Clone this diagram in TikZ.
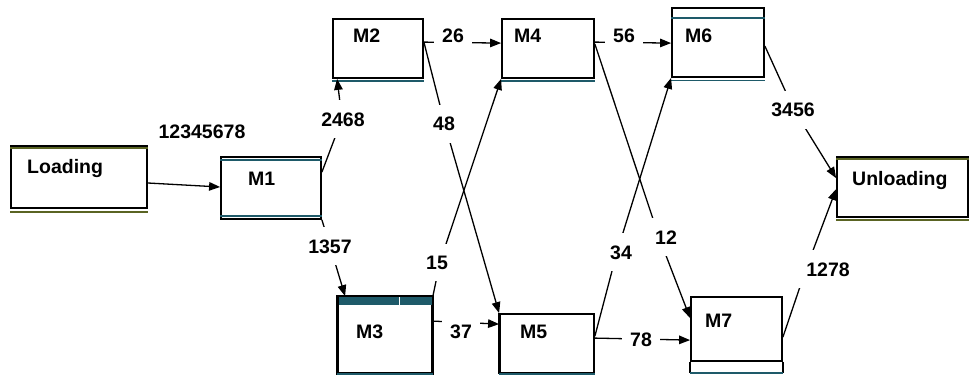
\documentclass[tikz,border=0pt]{standalone}
\usepackage{fontspec}
\setmainfont{Liberation Sans}
\usetikzlibrary{arrows.meta,fit,calc}
\definecolor{teal1}{RGB}{30,90,105}
\definecolor{olv}{RGB}{90,100,35}
\begin{document}
\begin{tikzpicture}[x=1pt,y=-1pt,
 box/.style={draw=black,line width=1.8pt,inner sep=0pt},
 txt/.style={font=\fontsize{19.5}{19.5}\selectfont\bfseries,inner sep=0pt,anchor=base west},
 lbl/.style={font=\fontsize{19.5}{19.5}\selectfont\bfseries,fill=white,inner xsep=8pt,inner ysep=12pt,anchor=base},
 conn/.style={line width=1.3pt},
 arr/.style={conn,-{Triangle[length=11pt,width=8.5pt]}},
 tl/.style={draw=teal1,line width=1.6pt},
 ol/.style={draw=olv,line width=1.6pt}]
\useasboundingbox (0,0) rectangle (971,377);

% boxes
\node[box,fit={(11,146)(147,208)}] (load) {};
\node[box,fit={(221,157)(321,219)}] (m1) {};
\node[box,fit={(333,19)(423,78)}] (m2) {};
\node[box,fit={(502,19)(594,78)}] (m4) {};
\node[box,fit={(672,8)(764,77)}] (m6) {};
\node[box,fit={(338,297)(432,373)}] (m3) {};
\node[box,fit={(500,314)(594,373)}] (m5) {};
\node[box,fit={(691,297)(782,361)}] (m7) {};
\node[box,fit={(837,157)(968,217)}] (unl) {};

% box decorations
\draw[ol] ([yshift=-3pt]load.north west) -- ([yshift=-3pt]load.north east);
\draw[ol] ([yshift=-3pt]load.south west) -- ([yshift=-3pt]load.south east);
\draw[tl] ([yshift=-4pt]m1.north west) -- ([yshift=-4pt]m1.north east);
\draw[tl] ([yshift=4pt]m1.south west) -- ([yshift=4pt]m1.south east);
\draw[tl] ([yshift=-2pt]m2.south west) -- ([yshift=-2pt]m2.south east);
\draw[tl] ([yshift=-2pt]m4.south west) -- ([yshift=-2pt]m4.south east);
\draw[tl] ([yshift=-11pt]m6.north west) -- ([yshift=-11pt]m6.north east);
\draw[tl] ([yshift=-2.5pt]m6.south west) -- ([yshift=-2.5pt]m6.south east);
\fill[teal1] (m3.north west) rectangle ([yshift=-9pt]m3.north east);
\draw[white,line width=0.8pt] ([xshift=62pt,yshift=-1pt]m3.north west) -- ([xshift=62pt,yshift=-9pt]m3.north west);
\draw[line width=1.8pt] (m3.north west) rectangle (m3.south east);
\draw[line width=3pt] (m3.north west) -- (m3.south west);
\draw[tl] (m3.south west) -- (m3.south east);
\draw[line width=3pt] (m5.north west) -- (m5.south west);
\draw[tl] (m5.south west) -- (m5.south east);
\draw[line width=1.8pt] (m7.south west) -- ([yshift=-11pt]m7.south west);
\draw[line width=1.8pt] (m7.south east) -- ([yshift=-11pt]m7.south east);
\draw[tl] ([yshift=-11pt]m7.south west) -- ([yshift=-11pt]m7.south east);
\draw[ol] ([yshift=-3pt]unl.north west) -- ([yshift=-3pt]unl.north east);
\draw[ol] ([yshift=-2pt]unl.south west) -- ([yshift=-2pt]unl.south east);

% box texts
\node[txt] (tload) at (27,173) {Loading};
\node[txt] (tm1) at (248,185) {M1};
\node[txt] (tm2) at (353,43) {M2};
\node[txt] (tm4) at (514,43) {M4};
\node[txt] (tm6) at (685,43) {M6};
\node[txt] (tm3) at (356,338) {M3};
\node[txt] (tm5) at (520,338) {M5};
\node[txt] (tm7) at (705,327) {M7};
\node[txt] (tunl) at (852,185) {Unloading};

% connector bend points
\coordinate (c2468) at (342,119);
\coordinate (c1357) at (330,246);
\coordinate (c48) at (445,125);
\coordinate (c15) at (440,262);
\coordinate (c12) at (660,240);
\coordinate (c34) at (617,252);
\coordinate (c3456) at (794,110);
\coordinate (c1278) at (806,269);

% connectors
\draw[arr] ([yshift=-6pt]load.east) -- ([yshift=1pt]m1.west);
\draw[arr] ([yshift=-16pt]m1.north east) -- (c2468) -- ([xshift=5pt]m2.south west);
\draw[arr] (m1.south east) -- (c1357) -- ([xshift=8pt]m3.north west);
\draw[arr] ([yshift=-24pt]m2.north east) -- ([yshift=-25pt]m4.north west);
\draw[arr] ([yshift=-24pt]m4.north east) -- ([yshift=-36pt]m6.north west);
\draw[arr] ([yshift=-24pt]m2.north east) -- (c48) -- (m5.north west);
\draw[arr] (m3.north east) -- (c15) -- (m4.south west);
\draw[arr] ([yshift=-26pt]m4.north east) -- (c12) -- ([yshift=-22pt]m7.north west);
\draw[arr] ([yshift=-23pt]m5.north east) -- (c34) -- (m6.south west);
\draw[arr] ([yshift=-25pt]m3.north east) -- ([yshift=-11pt]m5.north west);
\draw[arr] ([yshift=-25pt]m5.north east) -- ([yshift=-44pt]m7.north west);
\draw[arr] ([yshift=-39pt]m6.north east) -- (c3456) -- ([yshift=-22pt]unl.north west);
\draw[arr] ([yshift=-41pt]m7.north east) -- (c1278) -- ([yshift=-33pt]unl.north west);

% labels
\node[lbl] (l12345678) at (202,139) {12345678};
\node[lbl] (l2468) at (343,126) {2468};
\node[lbl] (l1357) at (330,253) {1357};
\node[lbl] (l26) at (453,43) {26};
\node[lbl] (l56) at (624,43) {56};
\node[lbl] (l48) at (444,131) {48};
\node[lbl] (l15) at (437,269) {15};
\node[lbl] (l37) at (461,338) {37};
\node[lbl] (l34) at (621,259) {34};
\node[lbl] (l12) at (666,244) {12};
\node[lbl] (l78) at (641,346) {78};
\node[lbl] (l3456) at (793,117) {3456};
\node[lbl] (l1278) at (828,276) {1278};
\end{tikzpicture}
\end{document}
